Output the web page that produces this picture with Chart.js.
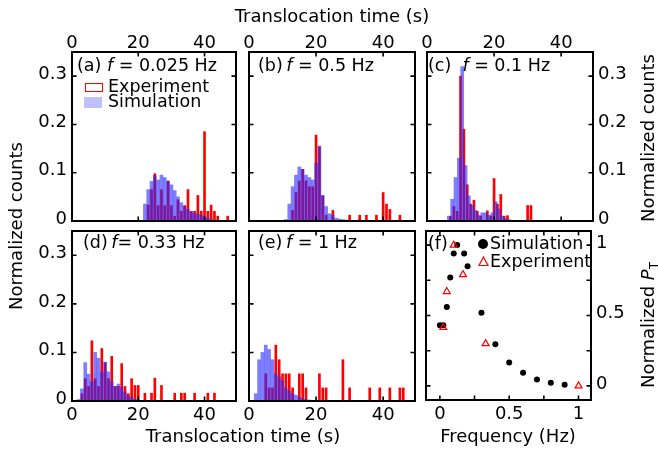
<!DOCTYPE html>
<html>
<head>
<meta charset="utf-8">
<title>Translocation time histograms</title>
<script src="https://cdn.jsdelivr.net/npm/chart.js@4.4.1/dist/chart.umd.min.js"></script>
<style>
  body { margin: 0; background: #fff; }
  #fig { position: relative; width: 658px; height: 451px; overflow: hidden; font-family: "DejaVu Sans", sans-serif; color: #000; }
  #fig canvas { position: absolute; left: 0; top: 0; }
  .t { position: absolute; white-space: nowrap; font-size: 17.5px; line-height: 1; transform: translateY(-50%); }
  .ax { font-size: 18px; }
  .c { transform: translate(-50%, -50%); }
  .v { transform: translate(-50%, -50%) rotate(-90deg); }
  .mk { position: absolute; box-sizing: border-box; }
  sub { font-size: 12px; vertical-align: -4px; line-height: 0; }
</style>
</head>
<body>
<div id="fig">
  <canvas id="pa" width="658" height="451"></canvas>
  <canvas id="pb" width="658" height="451"></canvas>
  <canvas id="pc" width="658" height="451"></canvas>
  <canvas id="pd" width="658" height="451"></canvas>
  <canvas id="pe" width="658" height="451"></canvas>
  <canvas id="pf" width="658" height="451"></canvas>

  <div class="t c ax" style="left:332px;top:16px">Translocation time (s)</div>
  <div class="t c ax" style="left:243px;top:436px">Translocation time (s)</div>
  <div class="t c ax" style="left:508px;top:436px">Frequency (Hz)</div>
  <div class="t v ax" style="left:16px;top:226px">Normalized counts</div>
  <div class="t v ax" style="left:648px;top:138px">Normalized counts</div>
  <div class="t v ax" style="left:648px;top:325px">Normalized <i>P</i><sub>T</sub></div>

  <div class="t" style="left:77px;top:66px">(a) <i>f</i> = 0.025 Hz</div>
  <div class="t" style="left:258px;top:66px">(b)&thinsp;<i>f</i> = 0.5 Hz</div>
  <div class="t" style="left:428px;top:66px">(c)&nbsp; <i>f</i> = 0.1 Hz</div>
  <div class="t" style="left:83px;top:243px">(d)&thinsp;<i>f</i>= 0.33 Hz</div>
  <div class="t" style="left:258px;top:243px">(e)&thinsp;<i>f</i> = 1 Hz</div>
  <div class="t" style="left:428px;top:244px">(f)</div>

  <div class="mk" style="left:85px;top:83px;width:18px;height:9px;border:1px solid #f00"></div>
  <div class="t" style="left:108px;top:87px">Experiment</div>
  <div class="mk" style="left:84px;top:97px;width:18px;height:11px;background:#c0c0fa"></div>
  <div class="t" style="left:108px;top:102px">Simulation</div>

  <div class="mk" style="left:478px;top:239px;width:10px;height:10px;border-radius:50%;background:#000"></div>
  <div class="t" style="left:490px;top:244px">Simulation</div>
  <svg class="mk" style="left:478px;top:256px" width="11" height="11"><polygon points="5.5,1 10,9.5 1,9.5" fill="none" stroke="#f00" stroke-width="1.2"/></svg>
  <div class="t" style="left:490px;top:262px">Experiment</div>
</div>
<script>
// histogram bins are 1 s wide; *Start is the centre of the first bin
const expAStart = 23;
const expA = [0.033, 0.065, 0.098, 0.032, 0.065, 0.032, 0.083, 0.032, 0.01, 0.044, 0.02, 0.032, 0.065,
              0.02, 0.02, 0.053, 0.02, 0.185, 0.02, 0.033, 0.02, 0.01, 0, 0, 0.01];
const simAStart = 22;
const simA = [0.035, 0.065, 0.082, 0.094, 0.085, 0.095, 0.09, 0.082, 0.075, 0.063, 0.05, 0.038, 0.03,
              0.024, 0.019, 0.016, 0.014, 0.012, 0.01, 0.006, 0.003];

const expBStart = 13;
const expB = [0.022, 0.059, 0.083, 0.107, 0.083, 0.071, 0.071, 0.178, 0.154, 0.052, 0.012, 0, 0.022,
              0, 0, 0, 0, 0.012, 0, 0, 0.012, 0, 0.012, 0, 0, 0.012, 0, 0.059, 0.035, 0.024, 0, 0, 0.012];
const simBStart = 11;
const simB = [0.003, 0.035, 0.071, 0.095, 0.112, 0.107, 0.095, 0.09, 0.085, 0.12, 0.155, 0.053, 0.03,
              0.015, 0.012, 0.006, 0.004, 0.003, 0.002];

const expCStart = 7;
const expC = [0.01, 0.03, 0.02, 0.3, 0.19, 0.075, 0.035, 0.043, 0.02, 0.01, 0, 0.021, 0.01, 0.088,
              0.035, 0.055, 0.01, 0.011, 0, 0, 0, 0, 0, 0.032, 0.032];
const simCStart = 6.5;
const simC = [0.01, 0.045, 0.09, 0.13, 0.32, 0.115, 0.052, 0.033, 0.022, 0.012, 0.017, 0.017, 0.012,
              0.017, 0.04, 0.025, 0.01, 0.005, 0.003];

const expDStart = 3;
const expD = [0.015, 0.046, 0.03, 0.124, 0.046, 0.03, 0.108, 0.079, 0.046, 0.092, 0.03, 0.03, 0.077,
              0.03, 0.015, 0.046, 0.032, 0.032, 0, 0.016, 0, 0.016, 0.047, 0, 0.032, 0, 0, 0, 0.016,
              0, 0.016, 0.016, 0, 0, 0.016, 0, 0, 0, 0.016, 0, 0.016];
const simDStart = 2;
const simD = [0.003, 0.025, 0.079, 0.055, 0.04, 0.1, 0.088, 0.06, 0.08, 0.06, 0.04, 0.03, 0.035,
              0.028, 0.018, 0.01, 0.007, 0.004, 0.002];

const expEStart = 5;
const expE = [0.056, 0.027, 0.027, 0.115, 0.085, 0.056, 0.056, 0.056, 0.027, 0, 0.056, 0.056, 0.027,
              0, 0, 0, 0.056, 0.027, 0.027, 0, 0, 0, 0, 0.085, 0, 0.027, 0, 0, 0, 0, 0, 0.027, 0, 0,
              0.027, 0, 0, 0.027, 0, 0, 0.027, 0.027];
const simEStart = 2;
const simE = [0.015, 0.085, 0.1, 0.115, 0.106, 0.085, 0.056, 0.05, 0.042, 0.027, 0.021, 0.015, 0.012,
              0.008, 0.005, 0.003, 0.002];

// panel (f)
const simFreq = [0, 0.025, 0.05, 0.075, 0.1, 0.125, 0.175, 0.2, 0.3, 0.4, 0.5, 0.6, 0.7, 0.8, 0.9];
const simPT = [0.43, 0.43, 0.56, 0.77, 0.94, 1.0, 0.94, 0.85, 0.52, 0.295, 0.167, 0.093, 0.046, 0.022, 0.008];
const expFreq = [0.025, 0.05, 0.1, 0.167, 0.33, 1.0];
const expPT = [0.415, 0.67, 1.0, 0.79, 0.30, 0.0];

const timeTicks = [0, 20, 40];
const timeTickLabels = ['0', '20', '40'];
const countTicks = [0, 0.1, 0.2, 0.3];
const countTickLabels = ['0', '0.1', '0.2', '0.3'];
const freqTicks = [0, 0.25, 0.5, 0.75, 1];
const freqTickLabels = ['0', '', '0.5', '', '1'];
const ptTicks = [0, 0.25, 0.5, 0.75, 1];
const ptTickLabels = ['0', '', '0.5', '', '1'];

const W = 658, H = 451;
const AXIS_X = 26, AXIS_Y = 42;
const TICK_FONT = { family: 'DejaVu Sans', size: 18, lineHeight: 1 };
const EXP_RED = '#ff0000';
const SIM_BLUE = 'rgba(40,40,255,0.6)';

Chart.defaults.color = '#000';

function toPoints(start, vals) {
  return vals.map((v, i) => ({ x: start + i, y: v }));
}
function pairs(xs, ys) {
  return xs.map((x, i) => ({ x: x, y: ys[i] }));
}

// plot area of each panel in page pixels
function pad(box, xPos, yPos) {
  return {
    left: yPos === 'right' ? box.l : box.l - (yPos === 'left' ? AXIS_Y : 0),
    right: W - box.r - (yPos === 'right' ? AXIS_Y : 0),
    top: xPos === 'top' ? box.t - AXIS_X : box.t,
    bottom: H - box.b - (xPos === 'bottom' ? AXIS_X : 0)
  };
}

// box outline plus inward tick marks on all four sides
const framePlugin = {
  id: 'frame',
  afterDraw(chart) {
    const { ctx, chartArea: a, scales } = chart;
    const L = 4.5;
    ctx.save();
    ctx.strokeStyle = '#000';
    ctx.lineWidth = 1.6;
    ctx.beginPath();
    scales.x.ticks.forEach(t => {
      const px = scales.x.getPixelForValue(t.value);
      ctx.moveTo(px, a.bottom); ctx.lineTo(px, a.bottom - L);
      ctx.moveTo(px, a.top); ctx.lineTo(px, a.top + L);
    });
    scales.y.ticks.forEach(t => {
      const py = scales.y.getPixelForValue(t.value);
      ctx.moveTo(a.left, py); ctx.lineTo(a.left + L, py);
      ctx.moveTo(a.right, py); ctx.lineTo(a.right - L, py);
    });
    ctx.stroke();
    ctx.lineWidth = 2;
    ctx.strokeRect(a.left, a.top, a.right - a.left, a.bottom - a.top);
    ctx.restore();
  }
};

function axis(pos, min, max, ticks, labels, showLabels, size, padding) {
  const horiz = pos === 'top' || pos === 'bottom';
  return {
    type: 'linear',
    position: pos,
    min: min,
    max: max,
    offset: false,
    grid: { display: false, drawTicks: false },
    border: { display: false },
    ticks: {
      display: showLabels,
      font: TICK_FONT,
      color: '#000',
      padding: padding,
      autoSkip: false,
      maxRotation: 0,
      labelOffset: horiz ? 0 : -2,
      callback: (v, i) => labels[i]
    },
    afterBuildTicks(scale) { scale.ticks = ticks.map(v => ({ value: v })); },
    afterFit(scale) {
      if (horiz) scale.height = AXIS_X;
      else scale.width = showLabels ? AXIS_Y : 0;
    }
  };
}

function histPanel(id, box, xPos, yPos, expStart, exp, simStart, sim) {
  new Chart(document.getElementById(id), {
    type: 'bar',
    data: {
      datasets: [
        { label: 'Simulation', data: toPoints(simStart, sim), backgroundColor: SIM_BLUE,
          borderWidth: 0, barThickness: 3, order: 0 },
        { label: 'Experiment', data: toPoints(expStart, exp), backgroundColor: EXP_RED,
          borderWidth: 0, barThickness: 2, order: 1 }
      ]
    },
    options: {
      responsive: false,
      animation: false,
      events: [],
      layout: { padding: pad(box, xPos, yPos) },
      datasets: { bar: { grouped: false } },
      plugins: { legend: { display: false }, tooltip: { enabled: false } },
      scales: {
        x: axis(xPos, 0, 49.5, timeTicks, timeTickLabels, true, AXIS_X, xPos === 'top' ? 0 : 5),
        y: axis(yPos === 'right' ? 'right' : 'left', 0, 0.35, countTicks, countTickLabels,
                yPos !== 'none', AXIS_Y, 5)
      }
    },
    plugins: [framePlugin]
  });
}

histPanel('pa', { l: 72, t: 52, r: 236, b: 221 }, 'top', 'left', expAStart, expA, simAStart, simA);
histPanel('pb', { l: 249, t: 52, r: 415, b: 221 }, 'top', 'none', expBStart, expB, simBStart, simB);
histPanel('pc', { l: 427, t: 52, r: 593, b: 221 }, 'top', 'right', expCStart, expC, simCStart, simC);
histPanel('pd', { l: 72, t: 231, r: 236, b: 401 }, 'bottom', 'left', expDStart, expD, simDStart, simD);
histPanel('pe', { l: 249, t: 231, r: 415, b: 401 }, 'bottom', 'none', expEStart, expE, simEStart, simE);

const boxF = { l: 426, t: 231, r: 591, b: 400 };
new Chart(document.getElementById('pf'), {
  type: 'scatter',
  data: {
    datasets: [
      { label: 'Experiment', data: pairs(expFreq, expPT), pointStyle: 'triangle', pointRadius: 4,
        borderColor: EXP_RED, backgroundColor: 'rgba(255,255,255,0)', borderWidth: 1.2, order: 0 },
      { label: 'Simulation', data: pairs(simFreq, simPT), pointStyle: 'circle', pointRadius: 3,
        borderColor: '#000', backgroundColor: '#000', borderWidth: 0, order: 1 }
    ]
  },
  options: {
    responsive: false,
    animation: false,
    events: [],
    layout: { padding: pad(boxF, 'bottom', 'right') },
    plugins: { legend: { display: false }, tooltip: { enabled: false } },
    scales: {
      x: axis('bottom', -0.1, 1.09, freqTicks, freqTickLabels, true, AXIS_X, 5),
      y: axis('right', -0.1, 1.1, ptTicks, ptTickLabels, true, AXIS_Y, 5)
    }
  },
  plugins: [framePlugin]
});
</script>
</body>
</html>
